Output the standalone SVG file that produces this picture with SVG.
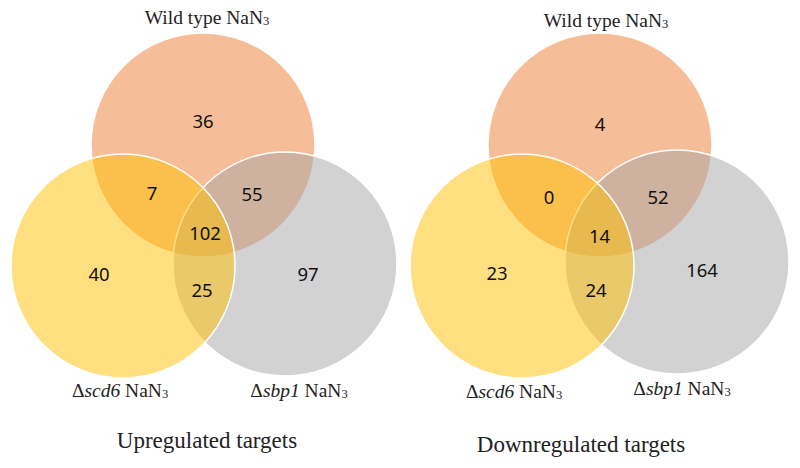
<svg xmlns="http://www.w3.org/2000/svg" width="800" height="468" viewBox="0 0 800 468">
<style>
.c{stroke:#fff;stroke-width:1.5}
.o{fill:#ED7D31;fill-opacity:.5}
.g{fill:#A5A5A5;fill-opacity:.5}
.y{fill:#FFC000;fill-opacity:.5}
.n{font-family:"Noto Sans","Open Sans",sans-serif;font-size:18.5px;fill:#111;text-anchor:middle}
.l{font-family:"Liberation Serif","Times New Roman",serif;font-size:19.5px;fill:#222;text-anchor:middle}
.t{font-family:"Liberation Serif","Times New Roman",serif;font-size:23px;fill:#222;text-anchor:middle}
.s{font-size:12.5px}
.i{font-style:italic}
</style>
<rect width="800" height="468" fill="#fff"/>
<g id="up">
  <g id="up-wt"><circle class="c o" cx="203" cy="145" r="112"/></g>
  <g id="up-sbp1"><circle class="c g" cx="285" cy="264" r="112"/></g>
  <g id="up-scd6"><circle class="c y" cx="123" cy="266" r="112"/></g>
  <g id="up-numbers">
    <text class="n" x="203" y="128">36</text>
    <text class="n" x="152" y="200">7</text>
    <text class="n" x="252" y="201">55</text>
    <text class="n" x="205" y="240">102</text>
    <text class="n" x="99" y="281">40</text>
    <text class="n" x="202" y="297">25</text>
    <text class="n" x="308" y="281">97</text>
  </g>
  <g id="up-labels">
    <text class="l" x="207" y="24">Wild type NaN<tspan class="s" dy="1">3</tspan></text>
    <text class="l" x="120" y="397">Δ<tspan class="i">scd6</tspan> NaN<tspan class="s" dy="1">3</tspan></text>
    <text class="l" x="299" y="397">Δ<tspan class="i">sbp1</tspan> NaN<tspan class="s" dy="1">3</tspan></text>
    <text class="t" x="207" y="448">Upregulated targets</text>
  </g>
</g>
<g id="down">
  <g id="down-wt"><circle class="c o" cx="600" cy="145" r="112"/></g>
  <g id="down-sbp1"><circle class="c g" cx="677" cy="262" r="112"/></g>
  <g id="down-scd6"><circle class="c y" cx="522" cy="266" r="112"/></g>
  <g id="down-numbers">
    <text class="n" x="600" y="131">4</text>
    <text class="n" x="549" y="204">0</text>
    <text class="n" x="658" y="204">52</text>
    <text class="n" x="599.5" y="243">14</text>
    <text class="n" x="497" y="280">23</text>
    <text class="n" x="596" y="297">24</text>
    <text class="n" x="702" y="277">164</text>
  </g>
  <g id="down-labels">
    <text class="l" x="606" y="27">Wild type NaN<tspan class="s" dy="1">3</tspan></text>
    <text class="l" x="514" y="398">Δ<tspan class="i">scd6</tspan> NaN<tspan class="s" dy="1">3</tspan></text>
    <text class="l" x="682" y="395">Δ<tspan class="i">sbp1</tspan> NaN<tspan class="s" dy="1">3</tspan></text>
    <text class="t" x="581" y="452">Downregulated targets</text>
  </g>
</g>
</svg>
